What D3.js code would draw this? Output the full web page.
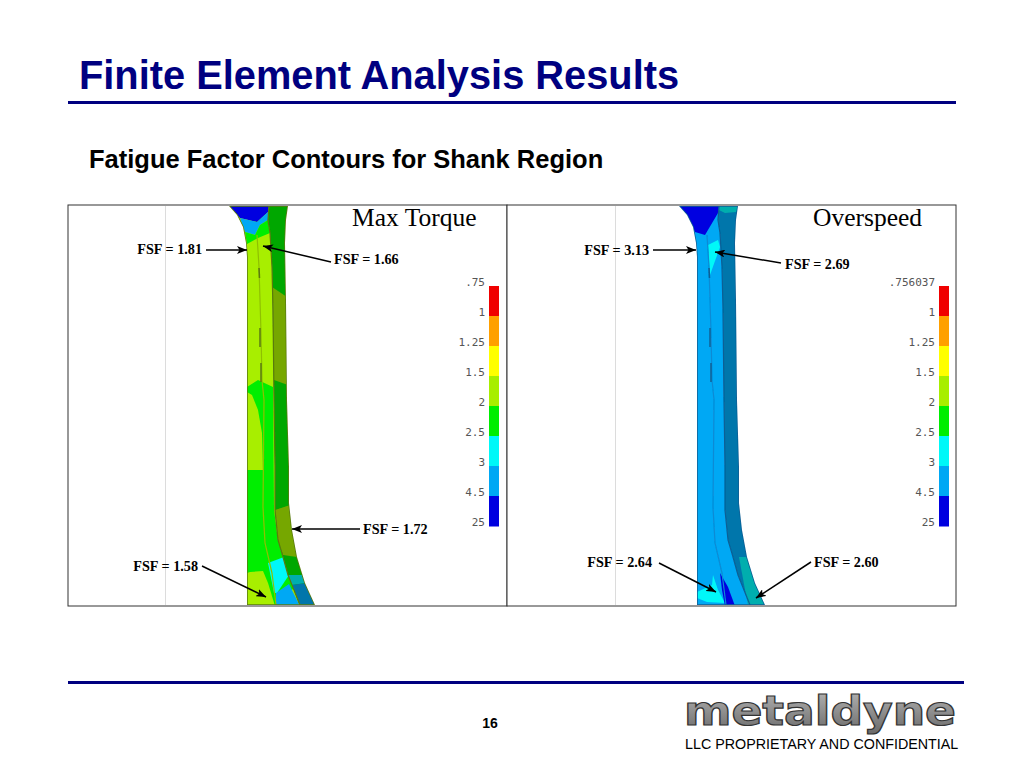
<!DOCTYPE html>
<html>
<head>
<meta charset="utf-8">
<script src="https://cdn.jsdelivr.net/npm/d3@7"></script>
<style>
html, body { margin: 0; padding: 0; background: #fff; }
svg { display: block; }
</style>
</head>
<body>
<div id="chart"></div>
<script>
// legend
const legendLabelsA = ['.75', '1', '1.25', '1.5', '2', '2.5', '3', '4.5', '25'];
const legendLabelsB = ['.756037', '1', '1.25', '1.5', '2', '2.5', '3', '4.5', '25'];
const bandLimits = [1, 1.25, 1.5, 2, 2.5, 3, 4.5];
const bandColors = ['#f00000', '#ffa000', '#ffff00', '#a8ee00', '#00ee00', '#00f8f8', '#00a8f4', '#0000e0'];

// callouts
const torqueFsf = [1.81, 1.66, 1.72, 1.58];
const overspeedFsf = [3.13, 2.69, 2.64, 2.60];
const torqueCallouts = [
  { tx: 202, ty: 254, anchor: 'end', from: [206, 250], to: [247, 250] },
  { tx: 334, ty: 264, anchor: 'start', from: [331, 262], to: [263, 246] },
  { tx: 363, ty: 534, anchor: 'start', from: [360, 529], to: [292, 529] },
  { tx: 198, ty: 571, anchor: 'end', from: [202, 566], to: [266, 597] }
];
const overspeedCallouts = [
  { tx: 649, ty: 255, anchor: 'end', from: [653, 250], to: [696, 250] },
  { tx: 785, ty: 269, anchor: 'start', from: [781, 263], to: [715, 252] },
  { tx: 652, ty: 567, anchor: 'end', from: [659, 563], to: [716, 592] },
  { tx: 814, ty: 567, anchor: 'start', from: [811, 562], to: [756, 598] }
];

// shank section in model units
const shankOutline = [[229,206],[237,215],[243,227],[246,243],[247,257],[247,605],[315,605],[305,583],[297,557],[292,530],[289,503],[289,467],[287,400],[286,300],[285,243],[286,220],[288,206]];
const flangeEdge = [[269,206],[268,220],[270,233],[272,267],[273,310],[274,400],[275,467],[275,510],[278,540],[283,557],[288,575],[292,585],[300,605]];
const webEdge = [[257,235],[259,267],[261,333],[262,380],[264,400],[263,507],[265,543],[272,573],[276,605]];
const flangeArea = [[269,206],[320,206],[320,606],[300,606],[292,585],[288,575],[283,557],[278,540],[275,510],[275,467],[274,400],[273,310],[272,267],[270,233],[268,220]];
const slotMarks = [[[259,268],[259.5,278]], [[260,328],[260,347]], [[261,363],[261,382]]];

// contour patches: value sets the band, shaded ones lie on the flange
const torquePatches = [
  { v: 1.7, s: 0, p: [[229,206],[300,206],[300,606],[229,606]] },
  { v: 2.2, s: 0, p: [[247,387],[258,380],[273,387],[274,510],[278,540],[285,563],[295,587],[276,606],[247,606]] },
  { v: 1.7, s: 0, p: [[247,392],[252,395],[258,410],[262,433],[263,470],[247,470]] },
  { v: 1.7, s: 0, p: [[247,573],[250,572],[263,571],[268,583],[275,606],[247,606]] },
  { v: 2.7, s: 0, p: [[268,563],[284,557],[289,575],[277,593],[274,593]] },
  { v: 3.5, s: 0, p: [[276,593],[289,584],[300,606],[276,606]] },
  { v: 2.2, s: 1, p: flangeArea },
  { v: 10, s: 0, p: [[229,206],[269,206],[268,212],[257,222],[240,218]] },
  { v: 3.5, s: 0, p: [[240,218],[257,222],[268,212],[268,220],[260,225],[255,235],[245,232]] },
  { v: 2.2, s: 0, p: [[245,232],[255,235],[260,225],[268,220],[270,233],[258,238],[247,244]] },
  { v: 1.7, s: 1, p: [[272,287],[287,297],[288,385],[274,380]] },
  { v: 1.7, s: 1, p: [[275,510],[290,505],[293,530],[297,557],[283,555],[278,540]] },
  { v: 2.7, s: 1, p: [[288,575],[302,575],[306,583],[292,585]] },
  { v: 3.5, s: 1, p: [[292,585],[306,583],[316,606],[300,606]] }
];
const overspeedPatches = [
  { v: 3.5, s: 0, p: [[229,206],[300,206],[300,606],[229,606]] },
  { v: 2.7, s: 0, p: [[263,575],[268,590],[275,603],[257,602],[247,598],[247,592],[262,585]] },
  { v: 10, s: 0, p: [[270,573],[278,587],[285,606],[275,606],[272,590]] },
  { v: 3.5, s: 1, p: flangeArea },
  { v: 10, s: 0, p: [[229,206],[269,206],[268,213],[255,235],[245,232],[237,215]] },
  { v: 2.7, s: 0, p: [[258,245],[268,240],[270,247],[260,275]] },
  { v: 2.7, s: 1, p: [[269,206],[289,206],[286,212],[275,213],[269,210]] },
  { v: 2.7, s: 1, p: [[289,557],[298,557],[316,606],[298,606]] }
];

const width = 1024, height = 768;
const svg = d3.select('#chart').append('svg').attr('width', width).attr('height', height);
const navy = '#000080';

// arrow head
svg.append('defs').append('marker')
  .attr('id', 'arrow')
  .attr('viewBox', '0 0 10 8')
  .attr('refX', 10).attr('refY', 4)
  .attr('markerWidth', 10).attr('markerHeight', 8)
  .attr('markerUnits', 'userSpaceOnUse')
  .attr('orient', 'auto')
  .append('path').attr('d', 'M0,0 L10,4 L0,8 L2.5,4 Z').attr('fill', '#000');

svg.select('defs').append('filter').attr('id', 'soft')
  .append('feGaussianBlur').attr('stdDeviation', 0.55);

// heading
svg.append('text').attr('x', 79).attr('y', 89)
  .attr('font-family', 'Liberation Sans').attr('font-weight', 'bold')
  .attr('font-size', 39.8).attr('fill', navy).text('Finite Element Analysis Results');
svg.append('rect').attr('x', 68).attr('y', 101).attr('width', 888).attr('height', 3).attr('fill', navy);
svg.append('text').attr('x', 89).attr('y', 168)
  .attr('font-family', 'Liberation Sans').attr('font-weight', 'bold')
  .attr('font-size', 25.5).attr('fill', '#000').text('Fatigue Factor Contours for Shank Region');

const bandColor = d3.scaleThreshold().domain(bandLimits).range(bandColors);
const patchColor = d => d.s ? d3.color(bandColor(d.v)).darker(1).formatHex() : bandColor(d.v);
const yModel = d3.scaleLinear().domain([205, 606]).range([205, 606]);

function drawPanel(cfg) {
  const g = svg.append('g');
  const x = d3.scaleLinear().domain([68, 508]).range([68 + cfg.shift, 508 + cfg.shift]);
  const line = d3.line().x(d => x(d[0])).y(d => yModel(d[1]));

  g.append('rect').attr('x', cfg.left).attr('y', 205).attr('width', cfg.right - cfg.left).attr('height', 401)
    .attr('fill', '#fff').attr('stroke', '#333').attr('stroke-width', 1);
  g.append('line').attr('x1', cfg.guide).attr('x2', cfg.guide).attr('y1', 206).attr('y2', 605)
    .attr('stroke', '#dcdcdc');

  g.append('clipPath').attr('id', cfg.id).append('path').attr('d', line(shankOutline) + 'Z');
  const shank = g.append('g').attr('clip-path', `url(#${cfg.id})`).append('g').attr('filter', 'url(#soft)');
  shank.selectAll('path.patch').data(cfg.patches).join('path').attr('class', 'patch')
    .attr('d', d => line(d.p) + 'Z').attr('fill', patchColor);

  // section edges
  shank.append('path').attr('d', line(flangeEdge)).attr('fill', 'none').attr('stroke', cfg.edge).attr('stroke-width', 1.2);
  shank.append('path').attr('d', line(webEdge)).attr('fill', 'none').attr('stroke', cfg.mid).attr('stroke-width', 1.2);
  shank.selectAll('path.slot').data(slotMarks).join('path').attr('class', 'slot')
    .attr('d', line).attr('fill', 'none').attr('stroke', cfg.edge).attr('stroke-width', 1.5);
  shank.append('path').attr('d', line(shankOutline) + 'Z').attr('fill', 'none').attr('stroke', cfg.edge).attr('stroke-width', 1.6);

  g.append('text').attr('x', cfg.titleX).attr('y', 226)
    .attr('font-family', 'Liberation Serif').attr('font-size', 25.5).attr('fill', '#000').text(cfg.title);

  // contour legend
  const yLegend = d3.scalePoint().domain(d3.range(cfg.labels.length)).range([286, 526]);
  const bands = d3.range(cfg.labels.length - 1);
  g.selectAll('rect.band').data(bands).join('rect').attr('class', 'band')
    .attr('x', cfg.legendX).attr('width', 10)
    .attr('y', d => yLegend(d)).attr('height', d => yLegend(d + 1) - yLegend(d) + 0.5)
    .attr('fill', d => bandColors[d]);
  g.selectAll('text.tick').data(cfg.labels).join('text').attr('class', 'tick')
    .attr('x', cfg.legendX - 4).attr('y', (d, i) => yLegend(i) - 0.5)
    .attr('text-anchor', 'end')
    .attr('font-family', 'DejaVu Sans Mono').attr('font-size', 11).attr('fill', '#555')
    .text(d => d);

  // callouts
  const co = g.selectAll('g.callout').data(cfg.callouts).join('g').attr('class', 'callout');
  co.append('line')
    .attr('x1', d => d.from[0]).attr('y1', d => d.from[1])
    .attr('x2', d => d.to[0]).attr('y2', d => d.to[1])
    .attr('stroke', '#000').attr('stroke-width', 1.5).attr('marker-end', 'url(#arrow)');
  co.append('text').attr('x', d => d.tx).attr('y', d => d.ty).attr('text-anchor', d => d.anchor)
    .attr('font-family', 'Liberation Serif').attr('font-weight', 'bold').attr('font-size', 14.2)
    .text((d, i) => 'FSF = ' + d3.format('.2f')(cfg.values[i]));
}

drawPanel({ id: 'clipA', shift: 0, left: 68, right: 507, guide: 165.5, title: 'Max Torque', titleX: 352,
  patches: torquePatches, labels: legendLabelsA, legendX: 489, callouts: torqueCallouts, values: torqueFsf,
  edge: '#5a7a10', mid: '#8fc000' });
drawPanel({ id: 'clipB', shift: 450, left: 507, right: 956, guide: 615.5, title: 'Overspeed', titleX: 813,
  patches: overspeedPatches, labels: legendLabelsB, legendX: 939, callouts: overspeedCallouts, values: overspeedFsf,
  edge: '#0b5f95', mid: '#0a8ad4' });

// footer
svg.append('rect').attr('x', 68).attr('y', 681).attr('width', 896).attr('height', 3).attr('fill', navy);
svg.append('text').attr('x', 490).attr('y', 728).attr('text-anchor', 'middle')
  .attr('font-family', 'Liberation Sans').attr('font-weight', 'bold').attr('font-size', 14).text('16');

const logoFill = svg.select('defs').append('linearGradient').attr('id', 'logoFill').attr('x1', 0).attr('x2', 0).attr('y1', 0).attr('y2', 1);
logoFill.append('stop').attr('offset', '0%').attr('stop-color', '#b5b5b5');
logoFill.append('stop').attr('offset', '100%').attr('stop-color', '#6a6a6a');
svg.append('text').attr('x', 684).attr('y', 725)
  .attr('textLength', 272).attr('lengthAdjust', 'spacingAndGlyphs')
  .attr('font-family', 'DejaVu Sans').attr('font-weight', 'bold').attr('font-size', 40)
  .attr('fill', 'url(#logoFill)').attr('stroke', '#333').attr('stroke-width', 1.2).text('metaldyne');
svg.append('text').attr('x', 685).attr('y', 749)
  .attr('font-family', 'Liberation Sans').attr('font-size', 14.3).attr('fill', '#000')
  .text('LLC PROPRIETARY AND CONFIDENTIAL');
</script>
</body>
</html>
